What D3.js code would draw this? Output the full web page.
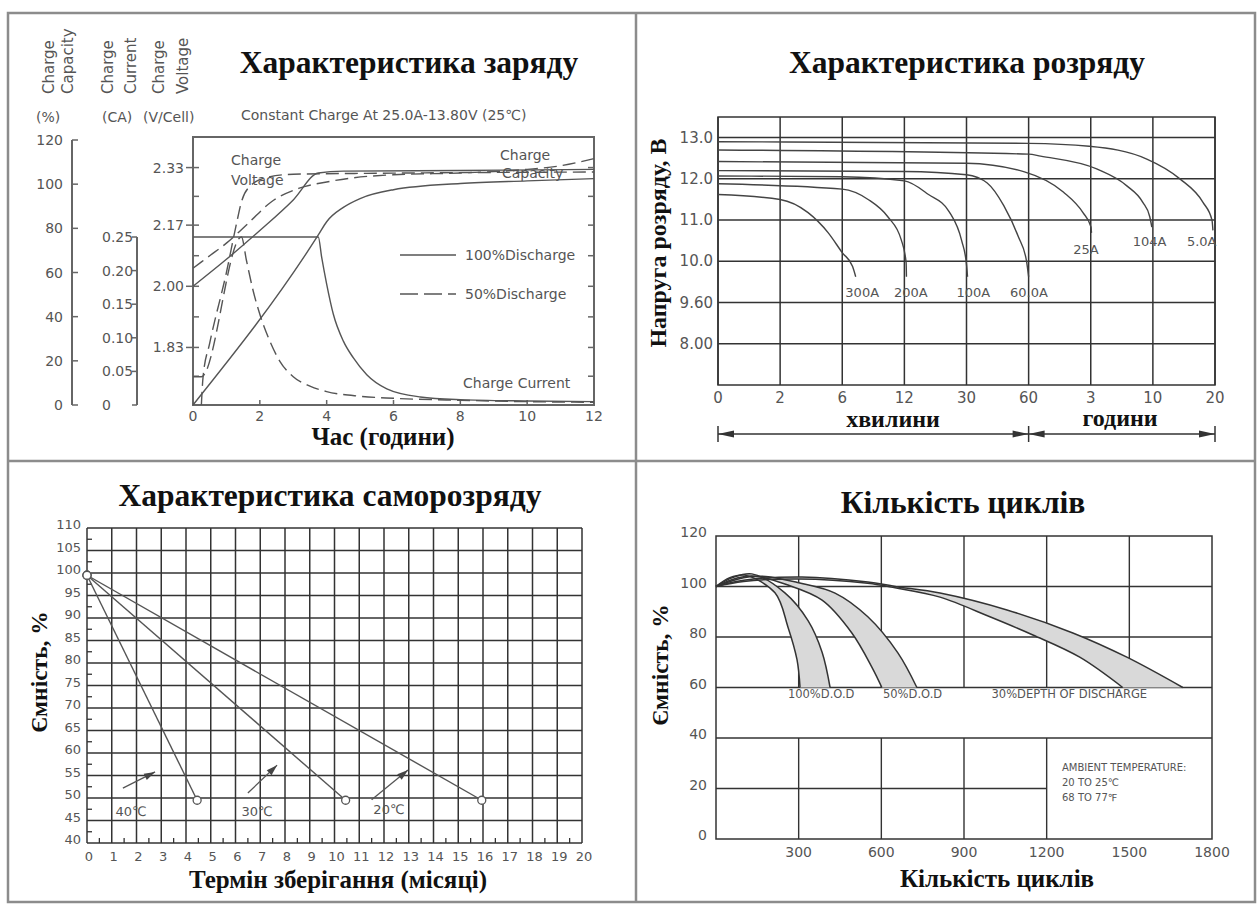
<!DOCTYPE html>
<html>
<head>
<meta charset="utf-8">
<script src="https://cdn.jsdelivr.net/npm/d3@7"></script>
<style>
  body { margin: 0; background: #fff; }
  svg text { font-family: "DejaVu Sans", Verdana, sans-serif; fill: #555; }
  svg text.ttl { font-family: "Liberation Serif", "Times New Roman", serif; font-weight: bold; fill: #111; }
</style>
</head>
<body>
<svg id="chart" width="1257" height="904"></svg>
<script>
// ---------- charge characteristic (hours / %, CA, V per cell) ----------
const chargeHours = [0, 2, 4, 6, 8, 10, 12];
const capacityTicks = [0, 20, 40, 60, 80, 100, 120];
const currentTicks = [0, 0.05, 0.10, 0.15, 0.20, 0.25];
const currentLabels = ['0', '0.05', '0.10', '0.15', '0.20', '0.25'];
const voltageTicks = [1.83, 2.00, 2.17, 2.33];
const voltageMinor = [1.75, 1.83, 1.915, 2.00, 2.085, 2.17, 2.25, 2.33];
const volt100 = [[0,2.00],[1,2.075],[2,2.155],[3,2.24],[3.75,2.315],[4.5,2.32],[8,2.322],[12,2.325]];
const volt50 = [[0,2.05],[0.5,2.085],[1,2.12],[1.65,2.175],[2.35,2.235],[3.16,2.272],[4,2.29],[4.66,2.30],[6,2.31],[8,2.315],[10,2.325],[11,2.335],[12,2.355]];
const curr100 = [[0,0.25],[3.75,0.25],[3.85,0.22],[4.0,0.18],[4.2,0.135],[4.5,0.095],[4.8,0.07],[5.2,0.045],[5.8,0.024],[6.8,0.012],[8,0.008],[10,0.006],[12,0.005]];
const curr50 = [[0,0.042],[0.25,0.042],[1.45,0.25],[1.6,0.215],[1.8,0.17],[2.0,0.135],[2.3,0.095],[2.6,0.065],[3,0.042],[3.5,0.028],[4,0.02],[5,0.013],[6,0.01],[8,0.007],[10,0.005],[12,0.004]];
const cap100 = [[0,0],[3.75,77],[4.0,83],[4.5,89.5],[5,93.5],[6,97.5],[8,100.3],[10,101.5],[12,102.5]];
const cap50 = [[0.25,0],[0.3,12.5],[0.5,28],[1,60],[1.3,82],[1.45,92],[1.7,99],[2.2,103],[3,104.5],[6,105],[12,105.5]];

// ---------- discharge characteristic (minutes / volts) ----------
const dischTicks = [0, 2, 6, 12, 30, 60, 180, 600, 1200];
const dischTickLabels = ['0', '2', '6', '12', '30', '60', '3', '10', '20'];
const dischVoltDomain = [7.0, 8.0, 9.6, 10.0, 11.0, 12.0, 13.0, 13.5];
const dischVoltTicks = [8.0, 9.6, 10.0, 11.0, 12.0, 13.0];
const dischVoltLabels = ['8.00', '9.60', '10.0', '11.0', '12.0', '13.0'];
const dischNames = ['300A', '200A', '100A', '60.0A', '25A', '104A', '5.0A'];
const d300 = [[0,11.62],[2,11.5],[3.8,11.18],[5.1,10.69],[6,10.21],[7,9.95],[7.3,9.85]];
const d200 = [[0,11.88],[6,11.75],[8.5,11.5],[10.4,11.08],[11.7,10.52],[12.5,9.99],[12.6,9.85]];
const d100 = [[0,12.07],[6,12.05],[12,11.95],[19,11.62],[25,11.2],[28.6,10.5],[30,9.97],[30.5,9.85]];
const d60 = [[0,12.2],[12,12.18],[30,12.1],[40,11.9],[48,11.35],[55,10.6],[59,10.0],[60,9.85]];
const d25 = [[0,12.42],[30,12.38],[58,12.17],[127,11.68],[165,11.18],[182,10.83],[185,10.69]];
const d10 = [[0,12.7],[60,12.6],[83,12.55],[220,12.24],[424,11.83],[532,11.43],[579,11.08],[593,10.83]];
const d5 = [[0,12.9],[60,12.86],[177,12.79],[559,12.48],[861,12.0],[1084,11.43],[1171,11.0],[1180,10.75]];
const dischLabelAt = [[6.3,9.65],[11.0,9.65],[27.1,9.65],[51,9.65],[146,10.17],[464,10.36],[929,10.36]];

// ---------- self discharge (months / %) ----------
const months = d3.range(0, 21);
const capSelfTicks = d3.range(40, 111, 5);
const sd40 = [[0,99.5],[4.45,49.5]];
const sd30 = [[0,99.5],[10.45,49.5]];
const sd20 = [[0,99.5],[15.95,49.5]];
const sdTemps = ['40℃', '30℃', '20℃'];
const sdArrows = [[[1.45,52.2],[2.75,55.8]], [[6.5,51.1],[7.68,57.3]], [[11.5,49.6],[12.97,56.2]]];
const sdLabelAt = [[1.78,46.0], [6.87,46.0], [12.2,46.4]];

// ---------- cycle life (cycles / %) ----------
const cycleTicks = [300, 600, 900, 1200, 1500, 1800];
const cycCapTicks = [0, 20, 40, 60, 80, 100, 120];
const dod100Outer = [[0,100],[60,103.5],[130,105],[250,97.5],[334,86.5],[385,74],[414,60]];
const dod100Inner = [[0,100],[50,103.5],[105,104.5],[214,97.5],[261,84],[294,71],[305,60]];
const dod50Outer = [[0,100],[100,103.5],[180,104],[300,101.5],[432,97.4],[551,88],[660,73.7],[729,60]];
const dod50Inner = [[0,100],[80,103.5],[150,104],[250,101],[385,94.6],[493,81.6],[566,68],[602,60]];
const dod30Outer = [[0,100],[100,102.5],[312,103.8],[551,101.8],[650,100],[813,97.4],[1056,90.7],[1295,81.6],[1491,72],[1694,60]];
const dod30Inner = [[0,100],[100,102],[300,103],[550,101.3],[650,99.5],[813,95.8],[994,88],[1150,80.8],[1320,72],[1476,60]];
const dodNames = ['100%D.O.D', '50%D.O.D', '30%DEPTH OF DISCHARGE'];
const dodLabelAt = [[261,55.8], [606,55.8], [1000,55.8]];
// grid segments that are drawn (value ranges)
const cycVertSegs = [[300,[[60,120],[0,40]]],[600,[[60,120],[0,40]]],[900,[[60,120],[0,40]]],[1200,[[60,120],[0,40]]],[1500,[[60,120]]]];
const cycHorizSegs = [[20,[0,1200]],[40,[0,1800]],[60,[0,1800]],[80,[0,1800]],[100,[0,1800]]];
const ambientText = ['AMBIENT TEMPERATURE:', '20 TO 25℃', '68 TO 77℉'];

const svg = d3.select('#chart');
const INK = '#555';
const GRID = '#333';

function addText(g, x, y, s, size, anchor) {
  return g.append('text').attr('x', x).attr('y', y).attr('font-size', size)
    .attr('text-anchor', anchor || 'start').text(s);
}
function title(x, y, s, size) {
  return svg.append('text').attr('class', 'ttl').attr('x', x).attr('y', y)
    .attr('text-anchor', 'middle').attr('font-size', size).text(s);
}
function vtitle(x, y, s, size) {
  return svg.append('text').attr('class', 'ttl')
    .attr('transform', `translate(${x},${y}) rotate(-90)`)
    .attr('text-anchor', 'middle').attr('font-size', size).text(s);
}
function drawLine(g, data, xs, ys, dash, curve) {
  return g.append('path').datum(data)
    .attr('d', d3.line().x(d => xs(d[0])).y(d => ys(d[1])).curve(curve || d3.curveMonotoneX))
    .attr('fill', 'none').attr('stroke', INK).attr('stroke-width', 1.4)
    .attr('stroke-dasharray', dash ? '13,6' : null);
}
function seg(g, x1, y1, x2, y2, color, w) {
  return g.append('line').attr('x1', x1).attr('y1', y1).attr('x2', x2).attr('y2', y2)
    .attr('stroke', color || INK).attr('stroke-width', w || 1.4);
}

// outer frame and dividers
svg.append('rect').attr('x', 8).attr('y', 13).attr('width', 1247).attr('height', 889)
  .attr('fill', 'none').attr('stroke', '#8c8c8c').attr('stroke-width', 2.5);
seg(svg, 636, 13, 636, 902, '#8c8c8c', 2.5);
seg(svg, 8, 461, 1255, 461, '#8c8c8c', 2.5);

// ================= panel 1: charge =================
{
  const g = svg.append('g');
  const x = d3.scaleLinear().domain([0, 12]).range([193, 594]);
  const yCap = d3.scaleLinear().domain([0, 120]).range([405, 140]);
  const yCur = d3.scaleLinear().domain([0, 0.25]).range([405, 237]);
  const yVol = d3.scaleLinear().domain([1.67, 2.415]).range([405, 137]);

  title(409, 73, 'Характеристика заряду', 31.5);
  addText(g, 241, 120, 'Constant Charge At 25.0A-13.80V  (25℃)', 14);

  // rotated header labels
  [['Charge', 54], ['Capacity', 73], ['Charge', 113], ['Current', 136], ['Charge', 164], ['Voltage', 188]]
    .forEach(([s, xx]) => g.append('text').attr('transform', `translate(${xx},94) rotate(-90)`)
      .attr('font-size', 15).text(s));
  addText(g, 36, 122, '(%)', 14);
  addText(g, 102, 122, '(CA)', 14);
  addText(g, 143, 122, '(V/Cell)', 14);

  // capacity axis
  seg(g, 72, yCap(0), 72, yCap(120), '#666', 2);
  capacityTicks.forEach(v => {
    seg(g, 72, yCap(v), 78, yCap(v), '#666', 1.5);
    addText(g, 63, yCap(v) + 5, v, 14, 'end');
  });
  // current axis
  seg(g, 137, yCur(0), 137, yCur(0.25), '#666', 2);
  currentTicks.forEach((v, i) => {
    seg(g, 132, yCur(v), 137, yCur(v), '#666', 1.5);
    addText(g, 102, yCur(v) + 5, currentLabels[i], 14);
  });
  // voltage axis + frame
  g.append('rect').attr('x', x(0)).attr('y', 137).attr('width', x(12) - x(0)).attr('height', 405 - 137)
    .attr('fill', 'none').attr('stroke', '#666').attr('stroke-width', 2);
  voltageTicks.forEach(v => {
    seg(g, 186, yVol(v), x(0), yVol(v), '#666', 1.5);
    addText(g, 184, yVol(v) + 5, v.toFixed(2), 14, 'end');
  });
  voltageMinor.forEach(v => {
    seg(g, x(0), yVol(v), x(0) + 6, yVol(v), '#666', 1.5);
    seg(g, x(12) - 6, yVol(v), x(12), yVol(v), '#666', 1.5);
  });
  chargeHours.forEach(h => {
    seg(g, x(h), 405, x(h), 400, '#666', 1.5);
    addText(g, x(h), 421, h, 14, 'middle');
  });

  // curves
  drawLine(g, volt100, x, yVol, false);
  drawLine(g, volt50, x, yVol, true);
  drawLine(g, curr100, x, yCur, false);
  drawLine(g, curr50, x, yCur, true);
  drawLine(g, cap100, x, yCap, false);
  drawLine(g, cap50, x, yCap, true);

  // labels and legend
  addText(g, 231, 165, 'Charge', 14);
  addText(g, 231, 185, 'Voltage', 14);
  addText(g, 500, 160, 'Charge', 14);
  addText(g, 502, 178, 'Capacity', 14);
  addText(g, 463, 388, 'Charge Current', 14);
  seg(g, 400, 255, 456, 255, INK, 1.4);
  addText(g, 465, 260, '100%Discharge', 14);
  seg(g, 400, 294, 456, 294, INK, 1.4).attr('stroke-dasharray', '18,6');
  addText(g, 465, 299, '50%Discharge', 14);

  title(383, 445, 'Час (години)', 25);
}

// ================= panel 2: discharge =================
{
  const g = svg.append('g');
  const left = 718, right = 1215, top = 117, bottom = 385;
  const stepX = (right - left) / (dischTicks.length - 1);
  const x = d3.scaleLinear().domain(dischTicks).range(dischTicks.map((d, i) => left + i * stepX));
  const stepY = (bottom - top) / 6.5;
  const rowIdx = [0, 1, 2, 3, 4, 5, 6, 6.5];
  const y = d3.scaleLinear().domain(dischVoltDomain).range(rowIdx.map(k => bottom - k * stepY));

  title(967, 73, 'Характеристика розряду', 31.5);
  vtitle(666, 243, 'Напруга розряду, В', 24);

  g.append('rect').attr('x', left).attr('y', top).attr('width', right - left).attr('height', bottom - top)
    .attr('fill', 'none').attr('stroke', GRID).attr('stroke-width', 1.5);
  dischTicks.forEach((t, i) => {
    seg(g, x(t), top, x(t), bottom, GRID, 1.5);
    addText(g, x(t), 403, dischTickLabels[i], 15, 'middle');
  });
  dischVoltTicks.forEach((v, i) => {
    seg(g, left, y(v), right, y(v), GRID, 1.5);
    addText(g, 713, y(v) + 5, dischVoltLabels[i], 15, 'end');
  });

  [d300, d200, d100, d60, d25, d10, d5].forEach(c => drawLine(g, c, x, y, false).attr('stroke', '#444'));
  dischNames.forEach((n, i) => addText(g, x(dischLabelAt[i][0]), y(dischLabelAt[i][1]), n, 13));

  // minutes / hours bracket
  title(893, 427, 'хвилини', 24);
  title(1120, 426, 'години', 24);
  const ay = 434;
  seg(g, left, ay, right, ay, GRID, 1.5);
  [left, x(60), right].forEach(xx => seg(g, xx, ay - 8, xx, ay + 8, GRID, 1.5));
  const head = (tip, dir) => g.append('path')
    .attr('d', `M${tip},${ay} L${tip + dir * 16},${ay - 3.5} L${tip + dir * 16},${ay + 3.5} Z`)
    .attr('fill', GRID);
  head(left, 1); head(x(60), -1); head(x(60), 1); head(right, -1);
}

// ================= panel 3: self discharge =================
{
  const g = svg.append('g');
  const x = d3.scaleLinear().domain([0, 20]).range([87, 582]);
  const y = d3.scaleLinear().domain([40, 110]).range([843, 528]);

  title(330, 506, 'Характеристика саморозряду', 31.5);
  vtitle(47, 672, 'Ємність, %', 23.5);
  title(338, 888, 'Термін зберігання (місяці)', 25);

  months.forEach(m => {
    seg(g, x(m), y(40), x(m), y(110), GRID, 1.5);
    addText(g, x(m) + 2, 861, m, 13, 'middle');
    if (m < 20) seg(g, x(m + 0.5), y(40), x(m + 0.5), y(40) - 5, GRID, 1.3);
  });
  capSelfTicks.forEach(v => {
    seg(g, x(0), y(v), x(20), y(v), GRID, 1.5);
    addText(g, 81, y(v) + 1, v, 13, 'end');
    if (v < 110) seg(g, x(0), y(v + 2.5), x(0) + 5, y(v + 2.5), GRID, 1.3);
  });

  [sd40, sd30, sd20].forEach(s => {
    drawLine(g, s, x, y, false, d3.curveLinear);
    g.selectAll(null).data(s).join('circle')
      .attr('cx', d => x(d[0])).attr('cy', d => y(d[1])).attr('r', 4)
      .attr('fill', '#fff').attr('stroke', INK).attr('stroke-width', 1.3);
  });

  sdArrows.forEach((a, i) => {
    const [p0, p1] = a.map(p => [x(p[0]), y(p[1])]);
    seg(g, p0[0], p0[1], p1[0], p1[1], INK, 1.3);
    const ang = Math.atan2(p1[1] - p0[1], p1[0] - p0[0]) * 180 / Math.PI;
    g.append('path').attr('d', 'M0,0 L-11,-3.5 L-11,3.5 Z').attr('fill', '#444')
      .attr('transform', `translate(${p1[0]},${p1[1]}) rotate(${ang})`);
    addText(g, x(sdLabelAt[i][0]), y(sdLabelAt[i][1]), sdTemps[i], 13, 'middle');
  });
}

// ================= panel 4: cycle life =================
{
  const g = svg.append('g');
  const x = d3.scaleLinear().domain([0, 1800]).range([716, 1212]);
  const y = d3.scaleLinear().domain([0, 120]).range([839, 536]);

  title(963, 513, 'Кількість циклів', 31.5);
  vtitle(668, 665, 'Ємність, %', 23.5);
  title(997, 887, 'Кількість циклів', 25);

  g.append('rect').attr('x', x(0)).attr('y', y(120)).attr('width', x(1800) - x(0)).attr('height', y(0) - y(120))
    .attr('fill', 'none').attr('stroke', GRID).attr('stroke-width', 1.5);
  cycVertSegs.forEach(([c, parts]) => parts.forEach(p => seg(g, x(c), y(p[0]), x(c), y(p[1]), GRID, 1.4)));
  cycHorizSegs.forEach(([v, p]) => seg(g, x(p[0]), y(v), x(p[1]), y(v), GRID, 1.4));
  cycleTicks.forEach(c => addText(g, x(c), 857, c, 14, 'middle'));
  cycCapTicks.forEach(v => addText(g, 707, y(v) + 1, v, 14, 'end'));

  const line = d3.line().x(d => x(d[0])).y(d => y(d[1])).curve(d3.curveCatmullRom);
  [[dod100Outer, dod100Inner], [dod50Outer, dod50Inner], [dod30Outer, dod30Inner]].forEach(([o, inn]) => {
    const d = line(o) + line(inn.slice().reverse()).replace(/^M/, 'L') + 'Z';
    g.append('path').attr('d', d).attr('fill', '#d9d9d9').attr('stroke', 'none');
  });
  [dod100Outer, dod100Inner, dod50Outer, dod50Inner, dod30Outer, dod30Inner].forEach(c =>
    g.append('path').attr('d', line(c)).attr('fill', 'none').attr('stroke', '#333').attr('stroke-width', 1.5));

  dodNames.forEach((n, i) => addText(g, x(dodLabelAt[i][0]), y(dodLabelAt[i][1]), n, 11.5).attr('fill', '#666'));
  ambientText.forEach((s, i) => addText(g, 1062, 771 + i * 15, s, 10).attr('fill', '#666'));
}
</script>
</body>
</html>
